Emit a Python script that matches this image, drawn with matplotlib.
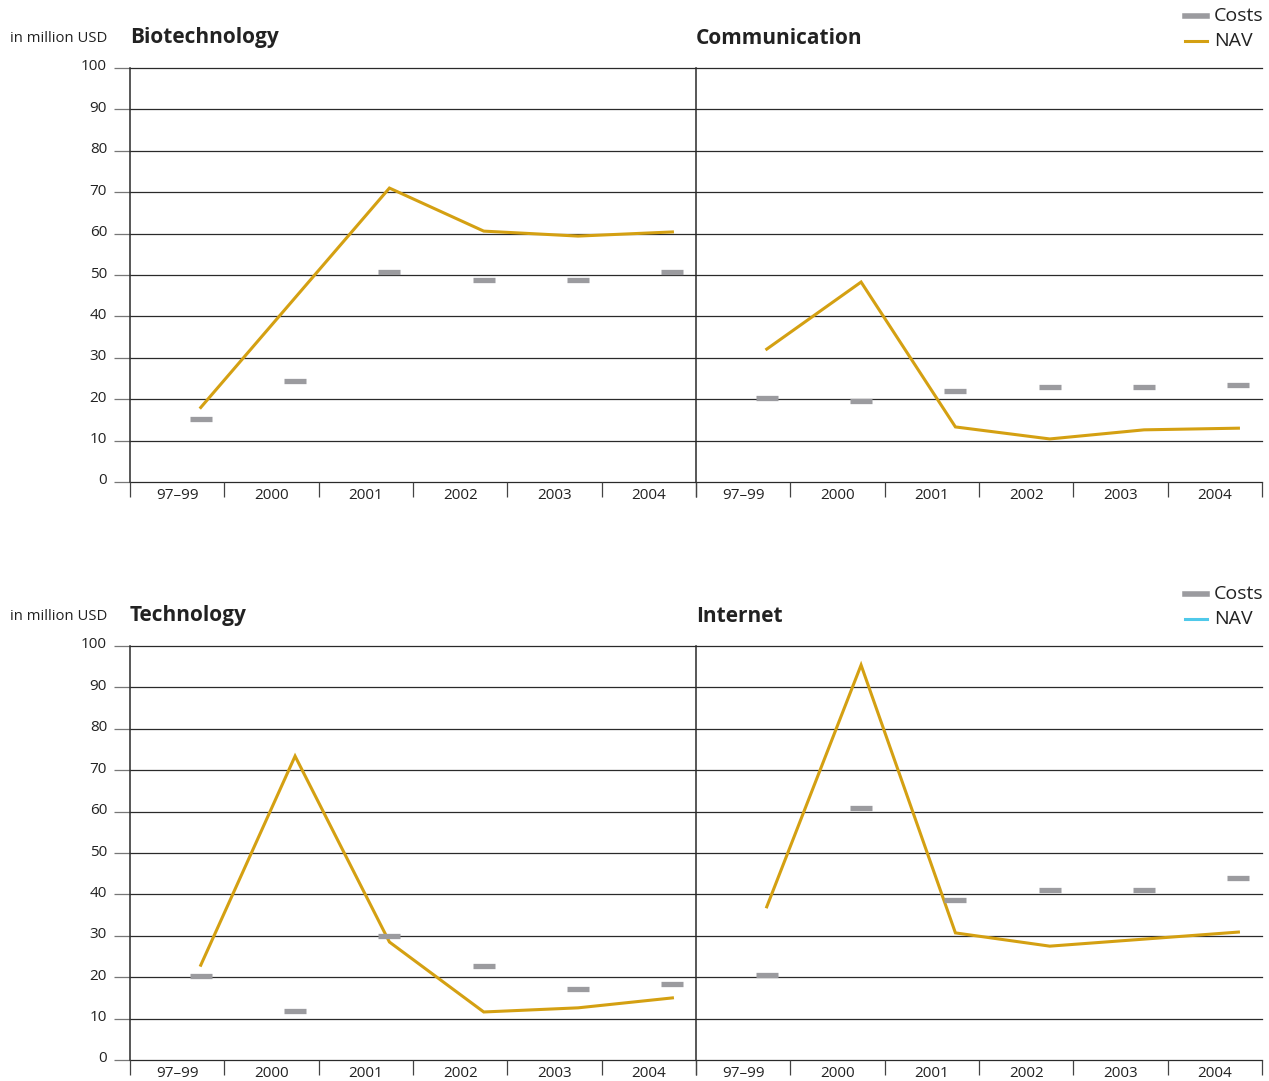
import matplotlib
matplotlib.use("Agg")
import matplotlib.pyplot as plt
from matplotlib.lines import Line2D
import matplotlib.transforms as mtransforms
import numpy as np

plt.rcParams['font.family'] = ['Open Sans', 'DejaVu Sans']

categories = ["97\u201399", "2000", "2001", "2002", "2003", "2004"]
yticks = [0, 10, 20, 30, 40, 50, 60, 70, 80, 90, 100]

biotech_nav = [18.0, 44.5, 71.0, 60.6, 59.4, 60.4]
biotech_costs = [15.2, 24.4, 50.7, 48.8, 48.8, 50.7]
comm_nav = [32.1, 48.3, 13.3, 10.4, 12.6, 13.0]
comm_costs = [20.3, 19.6, 22.0, 22.9, 22.9, 23.4]
tech_nav = [22.9, 73.4, 28.5, 11.6, 12.6, 15.0]
tech_costs = [20.3, 11.8, 30.0, 22.7, 17.2, 18.4]
inet_nav = [37.0, 95.4, 30.7, 27.5, 29.2, 30.9]
inet_costs = [20.5, 60.9, 38.6, 41.1, 41.1, 44.0]

NAV_C = "#D4A012"
COST_C = "#9B9B9F"
GRID_C = "#2a2a2a"
CYAN = "#4FC9EA"
TXT = "#222222"

fig = plt.figure(figsize=(12.69, 10.81), dpi=100)
W, H = 1269, 1081
PX = 72 / 100  # points per pixel

def make_ax(x0, y_top, y_bot, title, nav, costs, left):
    ax = fig.add_axes([x0 / W, 1 - y_bot / H, 566 / W, (y_bot - y_top) / H])
    n = len(categories)
    xs = np.arange(n) + 0.75
    ax.plot(xs, nav, color=NAV_C, lw=2.2, zorder=3, solid_joinstyle='miter')
    ax.plot(xs, costs, ls='none', marker='_', ms=16, mew=3.8, color=COST_C, zorder=4)
    ax.set_xlim(0, n)
    ax.set_ylim(0, 100)
    for sp in ['top', 'right', 'bottom']:
        ax.spines[sp].set_visible(False)
    ax.spines['left'].set_color(GRID_C)
    ax.spines['left'].set_linewidth(1.1)
    for v in yticks:
        ax.axhline(v, color=GRID_C, lw=0.9, zorder=1, clip_on=False)
    ax.set_xticks(np.arange(n + 1))
    ax.set_xticklabels([])
    ax.set_xticks(np.arange(n) + 0.5, minor=True)
    ax.set_xticklabels(categories, minor=True, fontsize=11, color=TXT)
    ax.tick_params(axis='x', which='major', length=15 * PX, width=0.9, color="#444444", direction='out')
    ax.tick_params(axis='x', which='minor', length=0, pad=4)
    if left:
        ax.set_yticks(yticks)
        ax.set_yticklabels([str(v) for v in yticks], fontsize=11, color=TXT)
        ax.tick_params(axis='y', length=16 * PX, width=0.9, color="#777777", pad=5)
        off = mtransforms.ScaledTranslation(0, 3 / 100, fig.dpi_scale_trans)
        for lab in ax.get_yticklabels():
            lab.set_transform(lab.get_transform() + off)
    else:
        ax.set_yticks([])
    fig.text(x0 / W, 1 - (y_top - 30) / H, title, fontsize=15, fontweight='bold',
             color=TXT, ha='left', va='center')
    return ax

make_ax(130, 68, 482, "Biotechnology", biotech_nav, biotech_costs, True)
make_ax(696, 68, 482, "Communication", comm_nav, comm_costs, False)
make_ax(130, 646, 1060, "Technology", tech_nav, tech_costs, True)
make_ax(696, 646, 1060, "Internet", inet_nav, inet_costs, False)

fig.text(107 / W, 1 - 39 / H, "in million USD", ha='right', va='center', fontsize=10.7, color=TXT)
fig.text(107 / W, 1 - 617 / H, "in million USD", ha='right', va='center', fontsize=10.7, color=TXT)

for (ytop, navc) in [(16, NAV_C), (594, CYAN)]:
    for i, (lab, c, lw) in enumerate([("Costs", COST_C, 4), ("NAV", navc, 2.2)]):
        yy = 1 - (ytop + 25 * i) / H
        fig.add_artist(Line2D([1185 / W, 1207 / W], [yy, yy], color=c, lw=lw))
        fig.text(1214 / W, yy, lab, ha='left', va='center', fontsize=14, color=TXT)

fig.savefig("out.png", dpi=100)
